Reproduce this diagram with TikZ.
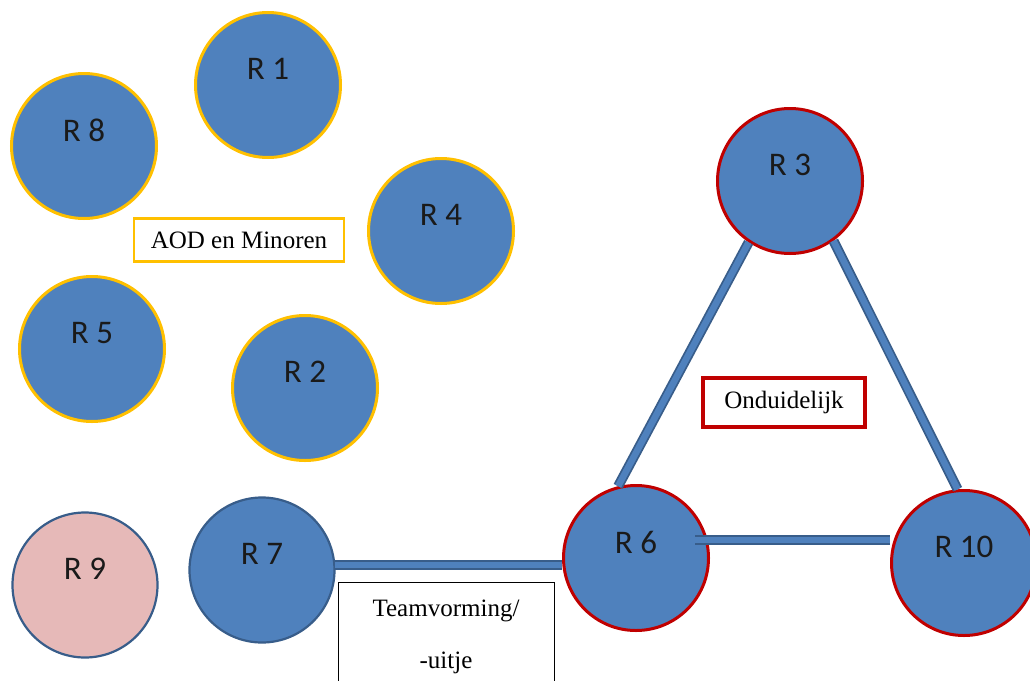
\documentclass[tikz,border=0pt]{standalone}
\usepackage{fontspec}
\setmainfont{Liberation Serif}
\newfontfamily\rfont{Carlito}
\definecolor{cfill}{HTML}{4F81BD}
\definecolor{cdark}{HTML}{385D8A}
\definecolor{cyel}{HTML}{FFC000}
\definecolor{cred}{HTML}{C00000}
\definecolor{cpink}{HTML}{E6B9B8}
\definecolor{ctxt}{HTML}{1A1A1A}
\begin{document}
\begin{tikzpicture}[x=1pt,y=-1pt,
  rnode/.style={circle,minimum size=145pt,inner sep=0pt,fill=cfill,line width=3pt,
     label={[font=\rfont\fontsize{33}{36}\selectfont,text=ctxt,yshift=16pt]center:#1}},
  ybord/.style={draw=cyel},
  rbord/.style={draw=cred},
  bbord/.style={draw=cdark,line width=2.2pt},
  lbox/.style={rectangle,inner sep=0pt,fill=white,font=\fontsize{25}{28}\selectfont},
  conn/.style={line width=10pt,draw=cdark,
     postaction={draw=cfill,line width=6.5pt}}
]
\useasboundingbox (0,0) rectangle (1030,680);
\fill[white] (0,0) rectangle (1030,680);

\node[rnode={R 1},ybord] (R1) at (268,85) {};
\node[rnode={R 8},ybord] (R8) at (84,146) {};
\node[rnode={R 4},ybord] (R4) at (441,231) {};
\node[rnode={R 5},ybord] (R5) at (92,349) {};
\node[rnode={R 2},ybord] (R2) at (305,388) {};
\node[rnode={R 3},rbord] (R3) at (790,181) {};
\node[rnode={R 6},rbord] (R6) at (636,558) {};
\node[rnode={R 10},rbord] (R10) at (964,563) {};
\node[rnode={R 7},bbord] (R7) at (262,570) {};
\node[rnode={R 9},bbord,fill=cpink] (R9) at (85,585) {};

% connectors
\draw[conn] (R3.236) -- (R6.104);
\draw[conn] (R3.306) -- (R10.95);
\coordinate (c6) at ([shift={(59pt,18pt)}]R6.center);
\draw[conn] (c6) -- (c6 -| R10.west);
\coordinate (c7) at ([shift={(-1pt,5pt)}]R7.east);
\draw[conn] (c7) -- (c7 -| R6.west);

% labels
\node[lbox,draw=cyel,line width=2.5pt,minimum width=210pt,minimum height=43pt] (aod) at (239,240) {AOD en Minoren};
\node[lbox,draw=cred,line width=4pt,minimum width=162pt,minimum height=49pt] (ond) at (784,402) {Onduidelijk};
\node[lbox,draw=black,line width=1pt,minimum width=216pt,minimum height=110pt,align=center,
  font=\fontsize{25}{52}\selectfont] (team) at (446,637) {Teamvorming/\\-uitje};
\end{tikzpicture}
\end{document}
